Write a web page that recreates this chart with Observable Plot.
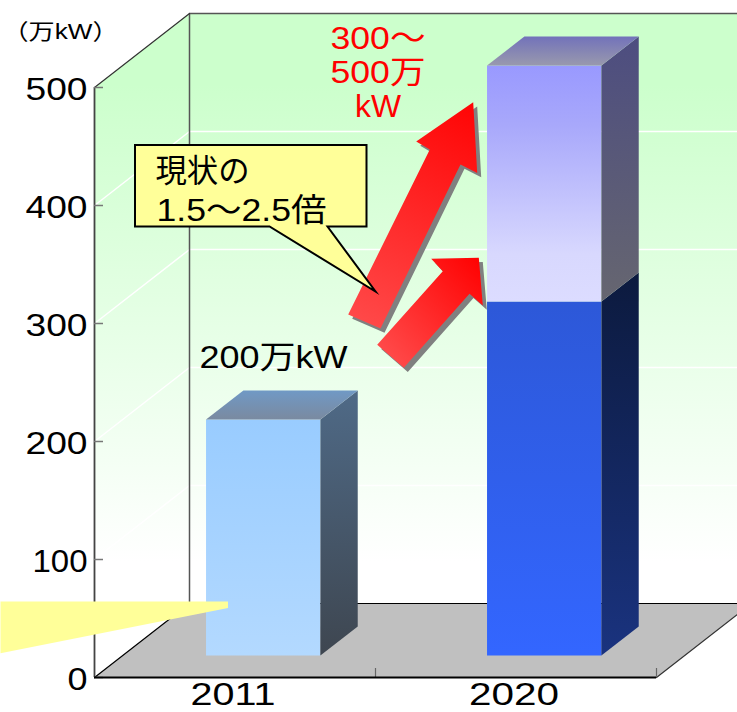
<!DOCTYPE html>
<html><head><meta charset="utf-8">
<style>html,body{margin:0;padding:0;background:#fff;overflow:hidden}</style>
<script src="https://cdn.jsdelivr.net/npm/d3@7"></script>
<script src="https://cdn.jsdelivr.net/npm/@observablehq/plot@0.6"></script>
</head><body><div id="chart"></div>
<script>
// --- data ---
const categories = ["2011", "2020"];
const currentValues = [200, 300];
const plannedValues = [null, 500];
const yTicks = [0, 100, 200, 300, 400, 500];
const gridValues = [100, 200, 300, 400];
const unitLabel = "（万kW）";
const barLabel = "200万kW";
const rangeLabel = ["300〜", "500万", "kW"];
const calloutLines = ["現状の", "1.5〜2.5倍"];

// --- layout helpers ---
const W = 737, H = 712;
const left = 94, right = 656, base = 677, pxPerUnit = 1.18;
const X = (px) => (px - left) / ((right - left) / 2);   // pixel -> category axis units
const V = (py) => (base - py) / pxPerUnit;              // pixel -> value units
const depthX = 95 / ((right - left) / 2), depthV = 74 / pxPerUnit;
// 3-D projection: category position, value, depth (0 front .. 1 back wall)
const P = (c, v, d = 0) => ({x: c + d * depthX, y: v + d * depthV});
const barHalf = 0.2035, dFront = 0.297, dBack = 0.69;
const FONT = '"Liberation Sans","Noto Sans CJK JP",sans-serif';

const poly = (pts, fill, o = {}) => Plot.line(pts, {x: "x", y: "y", fill, stroke: "none", curve: "linear-closed", ...o});
const seg = (pts, stroke, strokeWidth = 1.5) => Plot.line(pts, {x: "x", y: "y", stroke, strokeWidth});
const px = (list) => list.map(([a, b]) => ({x: X(a), y: V(b)}));

const grad = (id, stops, attrs = 'x1="0" y1="0" x2="0" y2="1"') =>
  `<linearGradient id="${id}" ${attrs}>` + stops.map(([o, c]) => `<stop offset="${o}" stop-color="${c}"/>`).join("") + `</linearGradient>`;
const defs = () => {
  const d = document.createElementNS("http://www.w3.org/2000/svg", "defs");
  d.innerHTML = [
    grad("wall", [[0, "#ccffcc"], [0.12, "#ccffcc"], [0.93, "#ffffff"], [1, "#ffffff"]], 'gradientUnits="userSpaceOnUse" x1="0" y1="13" x2="0" y2="603"'),
    grad("a11f", [[0, "#99ccff"], [1, "#b3d9ff"]]),
    grad("a11s", [[0, "#4f6a87"], [1, "#3e4650"]]),
    grad("a11t", [[0, "#7099c5"], [1, "#7a8aa0"]]),
    grad("lowf", [[0, "#2d58d8"], [1, "#3366ff"]]),
    grad("lows", [[0, "#0c1a3e"], [1, "#1a337f"]]),
    grad("upf", [[0, "#9999ff"], [0.25, "#a8a8fb"], [0.8, "#d8d8fe"], [1, "#dcdcff"]]),
    grad("ups", [[0, "#4d4d80"], [1, "#666670"]]),
    grad("upt", [[0, "#7272ba"], [1, "#9999ad"]]),
    grad("arr1", [[0, "#ff4848"], [1, "#ff0000"]], 'gradientUnits="userSpaceOnUse" x1="364" y1="321" x2="485" y2="90"'),
    grad("arr2", [[0, "#ff4848"], [1, "#ff0000"]], 'gradientUnits="userSpaceOnUse" x1="390" y1="355" x2="490" y2="265"')
  ].join("");
  return d;
};

function barMarks(i, low, high, fF, fS, fT) {
  const c = i + 0.5, a = c - barHalf, b = c + barHalf;
  const marks = [
    poly([P(a, low, dFront), P(b, low, dFront), P(b, high, dFront), P(a, high, dFront)], fF),
    poly([P(b, low, dFront), P(b, low, dBack), P(b, high, dBack), P(b, high, dFront)], fS)
  ];
  if (fT) marks.push(poly([P(a, high, dFront), P(b, high, dFront), P(b, high, dBack), P(a, high, dBack)], fT));
  return marks;
}

const arrow1 = [[347.7,314],[380,328],[460,164],[476.7,172.5],[472.7,101.7],[415.7,141],[429.3,149]];
const arrow2 = [[376.7,344.3],[403.3,367.3],[469,293.3],[482.3,305],[478.3,257.3],[430.7,258.3],[442.3,270.7]];
const shadow = (list) => list.map(([a, b]) => [a + 4, b + 4.3]);
const callout = [[134.5,144.5],[366,144.5],[366,226],[327,226],[375,291],[269,226],[134.5,226]];
const wedge = [[0,601],[227.5,601],[227.5,607.5],[0,652.7]];

const label = (text, xp, yp, o = {}) => Plot.text([text], {x: X(xp), y: V(yp), text: (d) => d, lineAnchor: "bottom", fontFamily: FONT, fill: "#000", fontSize: 32, ...o});

const plot = Plot.plot({
  width: W, height: H,
  marginLeft: left, marginRight: W - right, marginTop: 0, marginBottom: H - base,
  x: {domain: [0, 2], range: [left, right]},
  y: {domain: [0, V(0)], range: [base, 0]},
  style: {fontFamily: FONT, background: "#fff"},
  marks: [
    defs,
    // walls
    poly([P(0,0,0), P(0,500,0), P(0,500,1), P(0,0,1)], "url(#wall)"),
    poly([P(0,0,1), P(0,500,1), P(2.6,500,1), P(2.6,0,1)], "url(#wall)"),
    // grid lines on walls
    ...gridValues.map((v) => seg([P(0,v,0), P(0,v,1), P(2.6,v,1)], "#ffffff", 1.5)),
    // floor
    poly([P(0,0,0), P(2,0,0), P(2,0,1), P(0,0,1)], "#c0c0c0"),
    seg([P(0,0,1), P(2.6,0,1)], "#000", 1.2),
    seg([P(0,0,0), P(0,0,1)], "#000", 1.2),
    seg([P(2,0,0), P(2,0,1), P(2.6,0,1)], "#333", 1.2),
    // frame
    seg([P(0,0,1), P(0,500,1), P(2.6,500,1)], "#555", 1.5),
    seg([P(0,500,0), P(0,500,1)], "#333", 1.2),
    Plot.ruleX([0], {y1: 0, y2: 500, stroke: "#444", strokeWidth: 1.8}),
    Plot.ruleY(yTicks, {x1: 0, x2: X(103), stroke: "#777", strokeWidth: 1.5}),
    Plot.ruleX([1, 2], {y1: 0, y2: V(668), stroke: "#666", strokeWidth: 1.2}),
    Plot.ruleY([0], {x1: 0, x2: 2, stroke: "#000", strokeWidth: 1.8}),
    Plot.axisY({ticks: yTicks, tickSize: 0, tickPadding: 7, fontSize: 32, dy: 2.5, fill: "#000", tickFormat: (d) => String(d), label: null}),
    Plot.axisX({ticks: categories.map((d, i) => i + 0.5), tickFormat: (d) => categories[Math.floor(d)], tickSize: 0, tickPadding: 5, dx: -2, fontSize: 31, fill: "#000", label: null}),
    // bars
    ...barMarks(0, 0, currentValues[0], "url(#a11f)", "url(#a11s)", "url(#a11t)"),
    ...barMarks(1, 0, currentValues[1], "url(#lowf)", "url(#lows)", null),
    ...barMarks(1, currentValues[1], plannedValues[1], "url(#upf)", "url(#ups)", "url(#upt)"),
    // arrows
    poly(px(shadow(arrow1)), "#808080"),
    poly(px(arrow1), "url(#arr1)"),
    poly(px(shadow(arrow2)), "#808080"),
    poly(px(arrow2), "url(#arr2)"),
    // callout
    poly(px(callout), "#ffff99", {stroke: "#000", strokeWidth: 2, strokeLinejoin: "miter", strokeMiterlimit: 12}),
    poly(px(wedge), "#ffff99"),
    // text
    label(unitLabel, 60, 38, {fontSize: 22}),
    label(barLabel, 273, 367),
    ...rangeLabel.map((t, i) => label(t, 377.5, [48, 82, 116][i], {fill: "#ff0000"})),
    label(calloutLines[0], 155, 181, {textAnchor: "start"}),
    label(calloutLines[1], 156, 220, {textAnchor: "start"})
  ]
});
document.getElementById("chart").appendChild(plot);

// wide gothic look of the original: stretch the drawn text to the measured width
const targetWidth = {"500": 62, "400": 62, "300": 62, "200": 62, "100": 55, "0": 20, "2011": 85, "2020": 90,
  "200万kW": 148, "300〜": 95, "500万": 95, "kW": 46, "1.5〜2.5倍": 170, "現状の": 94, "（万kW）": 116};
plot.querySelectorAll("text").forEach((t) => {
  const s = t.textContent.trim();
  if (targetWidth[s]) { t.setAttribute("textLength", targetWidth[s]); t.setAttribute("lengthAdjust", "spacingAndGlyphs"); }
});
</script></body></html>
